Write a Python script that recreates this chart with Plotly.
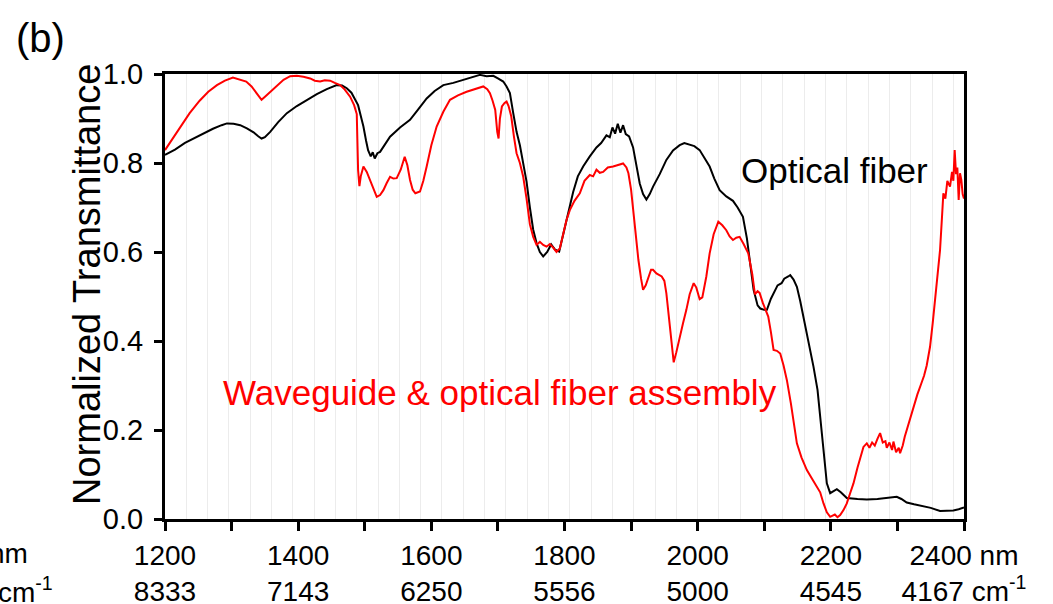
import plotly.graph_objects as go

# Transmittance spectra, wavelength in nm
fiber_nm = [1200, 1215, 1230, 1243, 1258, 1272, 1285, 1293, 1303, 1313, 1323, 1333, 1340, 1345, 1350,
            1358, 1370, 1383, 1398, 1413, 1428, 1443, 1458, 1466, 1473, 1480, 1485, 1490, 1495, 1498,
            1502, 1505, 1509, 1512, 1515, 1519, 1523, 1530, 1538, 1553, 1568, 1580, 1593, 1605, 1618,
            1633, 1648, 1660, 1673, 1683, 1693, 1700, 1708, 1713, 1718, 1723, 1728, 1733, 1738, 1743,
            1748, 1753, 1758, 1763, 1768, 1774, 1780, 1786, 1792, 1798, 1803, 1808, 1813, 1820, 1828,
            1838, 1848, 1855, 1863, 1868, 1872, 1876, 1880, 1884, 1888, 1892, 1897, 1903, 1908, 1913,
            1918, 1923, 1928, 1933, 1943, 1953, 1963, 1973, 1980, 1988, 1995, 2003, 2010, 2018, 2025,
            2033, 2043, 2053, 2060, 2068, 2074, 2080, 2084, 2090, 2094, 2100, 2104, 2110, 2114, 2120,
            2126, 2130, 2136, 2139, 2144, 2149, 2154, 2159, 2166, 2174, 2180, 2184, 2190, 2194, 2199,
            2204, 2209, 2215, 2224, 2240, 2254, 2270, 2285, 2299, 2306, 2314, 2325, 2339, 2350, 2364,
            2375, 2384, 2392, 2400]
fiber_t = [0.818, 0.830, 0.845, 0.855, 0.866, 0.877, 0.885, 0.889, 0.888, 0.885, 0.878, 0.869, 0.860, 0.855, 0.858,
           0.870, 0.892, 0.912, 0.928, 0.942, 0.955, 0.966, 0.975, 0.974, 0.968, 0.958, 0.945, 0.930, 0.900, 0.882,
           0.850, 0.829, 0.815, 0.824, 0.810, 0.822, 0.825, 0.840, 0.859, 0.880, 0.897, 0.920, 0.945, 0.962, 0.975,
           0.980, 0.987, 0.992, 0.998, 0.995, 0.996, 0.990, 0.983, 0.972, 0.957, 0.912, 0.870, 0.840, 0.800, 0.758,
           0.700, 0.650, 0.620, 0.600, 0.590, 0.600, 0.617, 0.605, 0.601, 0.640, 0.675, 0.710, 0.735, 0.770, 0.792,
           0.815, 0.835, 0.845, 0.862, 0.858, 0.880, 0.866, 0.888, 0.868, 0.885, 0.865, 0.860, 0.835, 0.790, 0.754,
           0.730, 0.718, 0.730, 0.747, 0.775, 0.807, 0.828, 0.840, 0.845, 0.842, 0.838, 0.829, 0.812, 0.792, 0.765,
           0.739, 0.725, 0.715, 0.700, 0.679, 0.630, 0.560, 0.515, 0.480, 0.473, 0.470, 0.470, 0.495, 0.507, 0.525,
           0.530, 0.540, 0.545, 0.548, 0.538, 0.522, 0.490, 0.455, 0.400, 0.342, 0.290, 0.230, 0.150, 0.080, 0.058,
           0.062, 0.067, 0.060, 0.047, 0.045, 0.044, 0.045, 0.047, 0.050, 0.045, 0.037, 0.033, 0.029, 0.025, 0.018,
           0.018, 0.019, 0.022, 0.026]

assembly_nm = [1200, 1210, 1222, 1237, 1252, 1265, 1278, 1290, 1302, 1312, 1322, 1330, 1338, 1345, 1351,
               1358, 1368, 1378, 1388, 1398, 1408, 1418, 1425, 1433, 1440, 1448, 1455, 1463, 1470, 1478,
               1484, 1488, 1490, 1492, 1494, 1498, 1503, 1508, 1513, 1518, 1523, 1528, 1533, 1538, 1543,
               1548, 1554, 1560, 1564, 1568, 1572, 1576, 1583, 1588, 1593, 1600, 1608, 1618, 1628, 1640,
               1653, 1665, 1678, 1684, 1688, 1692, 1696, 1699, 1701, 1703, 1706, 1710, 1713, 1716, 1720,
               1724, 1728, 1733, 1738, 1743, 1748, 1753, 1758, 1763, 1768, 1773, 1778, 1783, 1788, 1793,
               1798, 1803, 1808, 1815, 1823, 1830, 1838, 1843, 1848, 1853, 1858, 1865, 1873, 1880, 1888,
               1893, 1896, 1900, 1903, 1907, 1911, 1915, 1918, 1922, 1926, 1930, 1933, 1938, 1946, 1950,
               1953, 1957, 1961, 1964, 1968, 1973, 1978, 1983, 1988, 1994, 1998, 2003, 2007, 2013, 2018,
               2024, 2031, 2037, 2043, 2048, 2053, 2058, 2063, 2069, 2076, 2082, 2086, 2090, 2093, 2098,
               2102, 2106, 2110, 2114, 2119, 2124, 2129, 2134, 2140, 2144, 2149, 2156, 2164, 2172, 2179,
               2184, 2189, 2194, 2199, 2206, 2210, 2214, 2219, 2224, 2229, 2234, 2240, 2245, 2249, 2254,
               2258, 2262, 2266, 2270, 2274, 2278, 2282, 2284, 2288, 2292, 2294, 2298, 2302, 2304, 2308,
               2311, 2317, 2324, 2330, 2336, 2340, 2344, 2349, 2353, 2357, 2360, 2364, 2367, 2369, 2372,
               2375, 2379, 2382, 2384, 2386, 2388, 2390, 2392, 2394, 2396, 2398, 2400]
assembly_t = [0.829, 0.852, 0.880, 0.912, 0.940, 0.960, 0.975, 0.985, 0.992, 0.988, 0.983, 0.972, 0.957, 0.942, 0.950,
              0.960, 0.975, 0.987, 0.995, 0.996, 0.994, 0.990, 0.985, 0.983, 0.986, 0.985, 0.980, 0.975, 0.965, 0.949,
              0.930, 0.910, 0.784, 0.748, 0.770, 0.792, 0.780, 0.762, 0.740, 0.724, 0.728, 0.739, 0.755, 0.769, 0.765,
              0.766, 0.785, 0.814, 0.795, 0.762, 0.740, 0.732, 0.736, 0.760, 0.792, 0.840, 0.882, 0.915, 0.942, 0.952,
              0.960, 0.966, 0.972, 0.966, 0.957, 0.940, 0.919, 0.870, 0.855, 0.900, 0.927, 0.935, 0.938, 0.928, 0.905,
              0.860, 0.822, 0.800, 0.769, 0.720, 0.662, 0.634, 0.616, 0.623, 0.616, 0.612, 0.618, 0.610, 0.600, 0.608,
              0.640, 0.672, 0.694, 0.715, 0.732, 0.760, 0.773, 0.770, 0.785, 0.778, 0.780, 0.790, 0.792, 0.795, 0.799,
              0.790, 0.777, 0.740, 0.694, 0.630, 0.582, 0.540, 0.515, 0.525, 0.545, 0.560, 0.560, 0.552, 0.545, 0.535,
              0.507, 0.450, 0.390, 0.352, 0.375, 0.410, 0.440, 0.470, 0.505, 0.530, 0.520, 0.494, 0.498, 0.545, 0.597,
              0.640, 0.668, 0.660, 0.649, 0.635, 0.627, 0.632, 0.634, 0.618, 0.597, 0.550, 0.505, 0.512, 0.508, 0.485,
              0.470, 0.455, 0.420, 0.380, 0.378, 0.372, 0.345, 0.312, 0.260, 0.215, 0.170, 0.138, 0.110, 0.090, 0.073,
              0.060, 0.035, 0.015, 0.005, 0.010, 0.004, 0.009, 0.020, 0.035, 0.058, 0.080, 0.115, 0.145, 0.162, 0.170,
              0.160, 0.172, 0.165, 0.180, 0.193, 0.172, 0.175, 0.160, 0.172, 0.155, 0.174, 0.150, 0.160, 0.148, 0.165,
              0.185, 0.215, 0.252, 0.280, 0.305, 0.322, 0.345, 0.387, 0.440, 0.500, 0.540, 0.604, 0.680, 0.732, 0.720,
              0.760, 0.747, 0.780, 0.760, 0.829, 0.775, 0.790, 0.717, 0.777, 0.762, 0.730, 0.720]

# Axis ticks: wavelength labels with matching wavenumbers
tick_nm = [1200, 1300, 1400, 1500, 1600, 1700, 1800, 1900, 2000, 2100, 2200, 2300, 2400]
tick_text = ["1200<br>8333", " ", "1400<br>7143", " ", "1600<br>6250", " ", "1800<br>5556", " ",
             "2000<br>5000", " ", "2200<br>4545", " ", "2400 nm<br>4167 cm<sup>-1</sup>"]
y_ticks = [0.0, 0.2, 0.4, 0.6, 0.8, 1.0]

FONT = "Liberation Sans, Arial, sans-serif"

# Plot-area geometry in pixels
W, H = 1053, 604
ML, MR, MT, MB = 165, 89, 74, 85
PW, PH = W - ML - MR, H - MT - MB


def px_x(px):
    return (px - ML) / PW


def px_y(py):
    return (H - MB - py) / PH


fig = go.Figure()
fig.add_trace(go.Scatter(x=fiber_nm, y=fiber_t, mode="lines", name="Optical fiber",
                         line=dict(color="black", width=2)))
fig.add_trace(go.Scatter(x=assembly_nm, y=assembly_t, mode="lines",
                         name="Waveguide & optical fiber assembly",
                         line=dict(color="#ff0000", width=2)))

fig.update_layout(
    width=W, height=H,
    margin=dict(l=ML, r=MR, t=MT, b=MB, autoexpand=False),
    paper_bgcolor="white", plot_bgcolor="white",
    showlegend=False,
    font=dict(family=FONT, color="black", size=29),
    xaxis=dict(
        range=[1200, 2400], tickmode="array", tickvals=tick_nm, ticktext=tick_text,
        tickangle=0,
        ticks="outside", ticklen=9, tickwidth=3, tickcolor="black",
        showline=True, linewidth=3, linecolor="black", mirror=True,
        showgrid=False, zeroline=False, automargin=False,
        tickfont=dict(size=28),
        minor=dict(tickmode="linear", tick0=1200, dtick=32, ticks="",
                   showgrid=True, gridcolor="#ececec", gridwidth=1),
    ),
    yaxis=dict(
        range=[0, 1.0], tickmode="array", tickvals=y_ticks, tickformat=".1f",
        ticks="outside", ticklen=8, tickwidth=3, tickcolor="black",
        ticklabelstandoff=5,
        showline=True, linewidth=3, linecolor="black", mirror=True,
        showgrid=False, zeroline=False, automargin=False,
        tickfont=dict(size=29),
    ),
)

annotations = [
    dict(text="(b)", xref="paper", yref="paper", x=px_x(14), y=px_y(38),
         xanchor="left", yanchor="middle", showarrow=False, font=dict(size=40)),
    dict(text="Normalized Transmittance", xref="paper", yref="paper",
         x=px_x(87), y=px_y(285), textangle=-90,
         xanchor="center", yanchor="middle", showarrow=False, font=dict(size=38)),
    dict(text="nm", xref="paper", yref="paper", x=px_x(30), y=px_y(553),
         xanchor="right", yanchor="middle", showarrow=False, font=dict(size=28)),
    dict(text="cm<sup>-1</sup>", xref="paper", yref="paper", x=px_x(55), y=px_y(590),
         xanchor="right", yanchor="middle", showarrow=False, font=dict(size=28)),
    dict(text="Optical fiber", xref="x", yref="y", x=2206, y=0.784,
         xanchor="center", yanchor="middle", showarrow=False, font=dict(size=35, color="black")),
    dict(text="Waveguide & optical fiber assembly", xref="x", yref="y", x=1703, y=0.285,
         xanchor="center", yanchor="middle", showarrow=False, font=dict(size=35, color="#ff0000")),
]
fig.update_layout(annotations=annotations)

fig.write_html("out.html")
